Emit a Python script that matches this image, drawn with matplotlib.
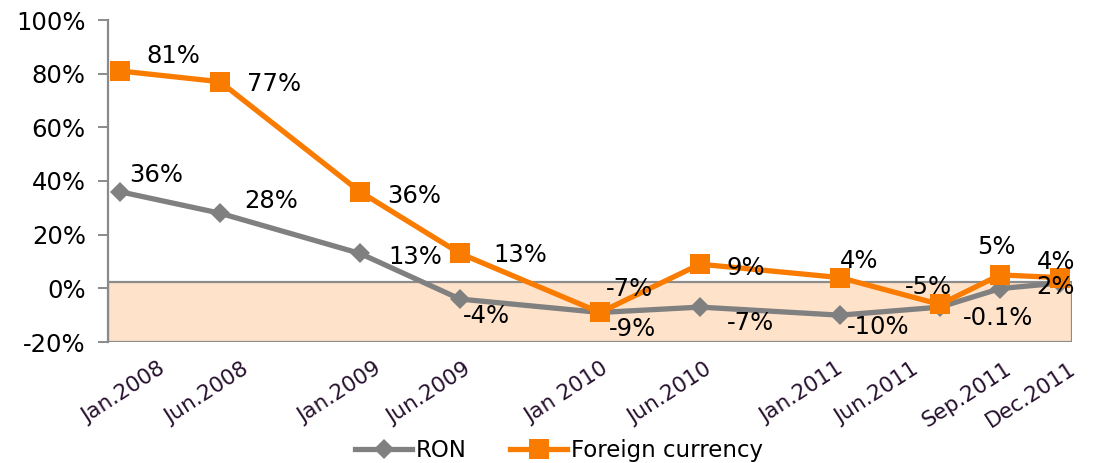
import matplotlib
matplotlib.use("Agg")
import matplotlib.pyplot as plt
import matplotlib.ticker as mticker

# ---------------- data ----------------
dates = ["2008-01", "2008-06", "2009-01", "2009-06", "2010-01",
         "2010-06", "2011-01", "2011-06", "2011-09", "2011-12"]
tick_labels = ["Jan.2008", "Jun.2008", "Jan.2009", "Jun.2009", "Jan 2010",
               "Jun.2010", "Jan.2011", "Jun.2011", "Sep.2011", "Dec.2011"]
ron = [36, 28, 13, -4, -9, -7, -10, -7, -0.1, 2]
foreign = [81, 77, 36, 13, -9, 9, 4, -6, 5, 4]
ron_labels = ["36%", "28%", "13%", "-4%", "-9%", "-7%", "-10%", "", "-0.1%", "2%"]
foreign_labels = ["81%", "77%", "36%", "13%", "-7%", "9%", "4%", "-5%", "5%", "4%"]
series_names = ["RON", "Foreign currency"]
y_ticks = [-20, 0, 20, 40, 60, 80, 100]
band_top = 2.2

# ---------------- layout / style ----------------
ORANGE = "#F97B00"
GRAY = "#808080"
AXGRAY = "#8A8A8A"
TICKCOL = "#26102E"
FONT = "DejaVu Sans"

# month index along a monthly date axis
months = [(int(d[:4]) - 2008) * 12 + int(d[5:]) - 1 for d in dates]

fig = plt.figure(figsize=(10.95, 4.63), dpi=100)
ax = fig.add_axes([108 / 1095, 121 / 463, 964 / 1095, 322 / 463])

ax.set_xlim(-0.6, 47.6)
ax.set_ylim(-20, 100)

# shaded band
ax.axhspan(-20, band_top, facecolor="#FEE2CA", edgecolor="#8C8C8C",
           linewidth=1.6, zorder=1)

l1, = ax.plot(months, ron, color=GRAY, lw=3.8, marker="D", ms=10,
              mec=GRAY, mfc=GRAY, mew=0, zorder=3, label=series_names[0])
l2, = ax.plot(months, foreign, color=ORANGE, lw=3.8, marker="s", ms=14.5,
              mec=ORANGE, mfc=ORANGE, mew=0, zorder=4, label=series_names[1])

# data labels (offsets in pixels: left edge dx, visual centre dy up)
foreign_off = [(26, 17), (27, 0), (27, -2), (33, 0), (6, 25), (26, -2),
               (0, 19), (-35, 19), (-23, 30), (-23, 18)]
ron_off = [(9, 19), (24, 14), (28, -2), (3, -15), (9, -15), (27, -14),
           (7, -10), (0, 0), (-37, -27), (-24, -2)]
for xs, ys, labs, offs in ((months, ron, ron_labels, ron_off),
                           (months, foreign, foreign_labels, foreign_off)):
    for x, y, t, (dx, dy) in zip(xs, ys, labs, offs):
        if not t:
            continue
        ax.annotate(t, xy=(x, y), xytext=(dx, dy - 9), textcoords="offset pixels",
                    ha="left", va="baseline", fontsize=17.5, family=FONT,
                    color="black", zorder=6, annotation_clip=False)

# y axis
ax.set_yticks(y_ticks)
ax.yaxis.set_major_formatter(mticker.FuncFormatter(lambda v, p: f"{v:.0f}%"))
ax.tick_params(axis="y", direction="out", length=7, width=1.4, color=AXGRAY,
               labelsize=17.5, pad=9, labelcolor="black")
for lab in ax.get_yticklabels():
    lab.set_family(FONT)

# x axis: rotated labels drawn per tick
ax.set_xticks([])
tick_dx = [38, 21, 14, 3, 1, 4, -4, -29, 4, 8]
for m, t, dx in zip(months, tick_labels, tick_dx):
    ax.annotate(t, xy=(m, 0), xycoords=("data", "axes fraction"),
                xytext=(dx, -17), textcoords="offset pixels",
                rotation=33, rotation_mode="anchor", ha="right", va="top",
                fontsize=15.5, family=FONT, color=TICKCOL, annotation_clip=False)

for s in ("top", "right", "bottom"):
    ax.spines[s].set_visible(False)
ax.spines["left"].set_color(AXGRAY)
ax.spines["left"].set_linewidth(1.6)
ax.spines["left"].set_zorder(2)

leg = fig.legend(handles=[l1, l2], loc="center", bbox_to_anchor=(0.5105, 0.026),
                 ncol=2, frameon=False, handlelength=2.5, handletextpad=0.15,
                 columnspacing=1.9, prop={"family": FONT, "size": 16.5})

fig.savefig("out.png", dpi=100)
